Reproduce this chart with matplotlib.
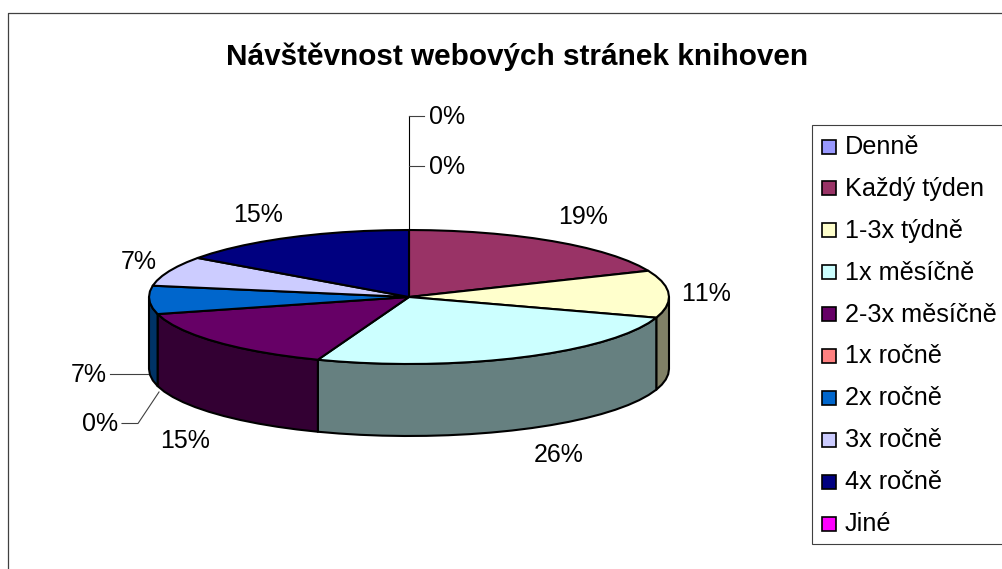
import matplotlib
matplotlib.use('Agg')
import matplotlib.pyplot as plt
from matplotlib.patches import Rectangle
import numpy as np

title = 'Návštěvnost webových stránek knihoven'
categories = ['Denně', 'Každý týden', '1-3x týdně', '1x měsíčně', '2-3x měsíčně',
              '1x ročně', '2x ročně', '3x ročně', '4x ročně', 'Jiné']
values = [0, 18.6, 11.4, 25.7, 15.2, 0, 6.8, 7.2, 15.1, 0]
colors = ['#9999FF', '#993366', '#FFFFCC', '#CCFFFF', '#660066',
          '#FF8080', '#0066CC', '#CCCCFF', '#000080', '#FF00FF']
side_colors = ['#4D4D80', '#4D1A33', '#808066', '#668080', '#330033',
               '#804040', '#003366', '#666680', '#000040', '#800080']

plt.rcParams['font.family'] = ['Liberation Sans', 'DejaVu Sans']
plt.rcParams['text.kerning_factor'] = 6

W, H = 1002, 569
fig = plt.figure(figsize = (W / 100, H / 100), dpi = 100)
ax = fig.add_axes([0, 0, 1, 1])
ax.set_xlim(0, W)
ax.set_ylim(H, 0)
ax.axis('off')

# pie geometry in pixels
cx, cy = 409, 297
rx, ry = 260, 67
depth = 72
edge = 1.5


def rim(a0, a1):
    # angles in degrees, clockwise from the top
    n = max(2, int(abs(a1 - a0) / 5) + 2)
    a = np.radians(np.linspace(a0, a1, n))
    return cx + rx * np.sin(a), cy - ry * np.cos(a)


total = sum(values)
ends = np.cumsum(values) / total * 360
starts = ends - np.array(values) / total * 360

# side walls first, only the front half of the rim can be seen
for v, a0, a1, c in zip(values, starts, ends, side_colors):
    lo, hi = max(a0, 90), min(a1, 270)
    if v == 0 or lo >= hi:
        continue
    x, y = rim(lo, hi)
    ax.fill(np.r_[x, x[::-1]], np.r_[y, y[::-1] + depth], facecolor = c,
            edgecolor = 'black', linewidth = edge, joinstyle = 'round')

for v, a0, a1, c in zip(values, starts, ends, colors):
    if v == 0:
        continue
    x, y = rim(a0, a1)
    ax.fill(np.r_[cx, x], np.r_[cy, y], facecolor = c,
            edgecolor = 'black', linewidth = edge, joinstyle = 'round')

# leader lines
leader = dict(color = '#404040', linewidth = 0.8)
ax.plot([409, 409], [115.5, 230], color = 'black', linewidth = 0.8)
ax.plot([409, 424], [115.5, 115.5], **leader)
ax.plot([409, 424], [165.5, 165.5], **leader)
ax.plot([110, 148], [373.5, 373.5], **leader)
ax.plot([122, 138, 159], [423.5, 423.5, 392], **leader)

# percent labels, same order as the values
label_pos = [(447, 117), (583, 217), (706, 294), (559, 455), (185, 441),
             (100, 424), (89, 375), (139, 262), (258, 215), (447, 167)]
for v, (lx, ly) in zip(values, label_pos):
    ax.text(lx, ly, '%d%%' % round(v), fontsize = 18, ha = 'center', va = 'center',
            color = 'black')

ax.text(517, 57, title, fontsize = 21.4, fontweight = 'bold', ha = 'center',
        va = 'center', color = 'black')

# legend
ax.add_patch(Rectangle((812.5, 124.5), 200, 419, facecolor = 'white',
                       edgecolor = '#404040', linewidth = 0.8, clip_on = True))
leg_y = np.linspace(145, 522, len(categories))
for name, c, ly in zip(categories, colors, leg_y):
    ax.add_patch(Rectangle((822.5, ly - 5.5), 14, 14, facecolor = c,
                           edgecolor = 'black', linewidth = 1.2))
    ax.text(845, ly + 2, name, fontsize = 18.2, ha = 'left', va = 'center',
            color = 'black')

# chart area border, right and bottom run off the image
ax.plot([8.5, 8.5, W], [H, 12.5, 12.5], color = '#404040', linewidth = 0.9)

fig.savefig('out.png', dpi = 100)
